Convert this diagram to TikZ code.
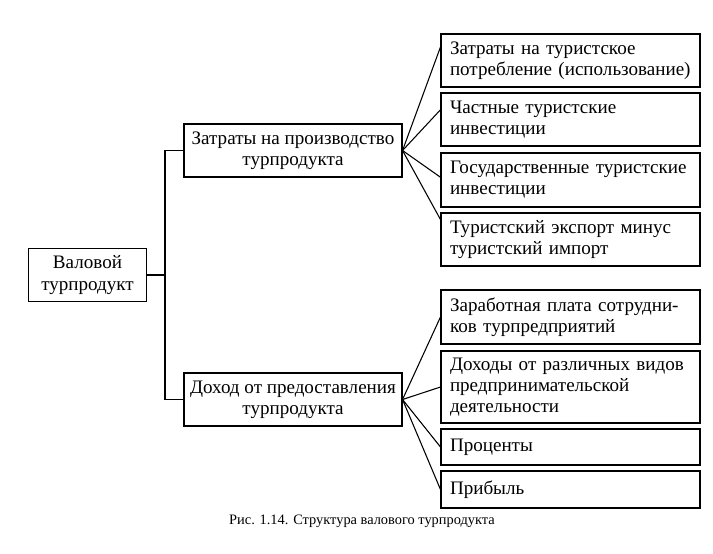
\documentclass[tikz,border=0pt]{standalone}
\usepackage{fontspec}
\setmainfont{Liberation Serif}
\usetikzlibrary{calc}
\begin{document}
\begin{tikzpicture}[x=0.75pt, y=-0.75pt,
    txt/.style={font=\fontsize{14.3}{15.8}\selectfont},
    box/.style={txt, draw, line width=.8pt, inner sep=0pt},
    midbox/.style={box, align=center, minimum width=163.5pt, minimum height=39.75pt},
    itembox/.style={box, align=left, text width=180.75pt, inner xsep=6.75pt, minimum height=#1},
    itembox/.default=39.75pt,
    link/.style={line width=.8pt}]
  \useasboundingbox (0,0) rectangle (713,553);
  % left part
  \node[box, align=center, minimum width=88.5pt, minimum height=39.75pt] (root) at (87.5,275)
    {Валовой\\турпродукт};
  \node[midbox] (cost) at (293,150.5) {Затраты на производство\\турпродукта};
  \node[midbox] (income) at (293,399.5) {Доход от предоставления\\турпродукта};
  \coordinate (fork) at (165,275);
  \draw[link] (root) -- (fork);
  \draw[link] (cost.west) -| (fork) |- (income.west);
  % right column, costs
  \node[itembox] (c1) at (570.5,60.5) {Затраты на туристское\\потребление (использование)};
  \node[itembox] (c2) at (570.5,119.5) {Частные туристские\\инвестиции};
  \node[itembox=40.5pt] (c3) at (570.5,180) {Государственные туристские\\инвестиции};
  \node[itembox] (c4) at (570.5,239.5) {Туристский экспорт минус\\туристский импорт};
  % right column, income
  \node[itembox=40.5pt] (d1) at (570.5,317) {Заработная плата сотрудни-\\ков турпредприятий};
  \node[itembox=54pt] (d2) at (570.5,387) {Доходы от различных видов\\предпринимательской\\деятельности};
  \node[itembox=27pt] (d3) at (570.5,447) {Проценты};
  \node[itembox=27.75pt] (d4) at (570.5,489.5) {Прибыль};
  \foreach \n/\f in {c1/.25, c2/.32, c3/.45, c4/.13}
    \draw[link] (cost.east) -- ($(\n.north west)!\f!(\n.south west)$);
  \foreach \n in {d1, d2, d3, d4}
    \draw[link] (income.east) -- (\n.west);
  \node[font=\fontsize{10.8}{13}\selectfont] (caption) at (362,521) {Рис. 1.14. Структура валового турпродукта};
\end{tikzpicture}
\end{document}
